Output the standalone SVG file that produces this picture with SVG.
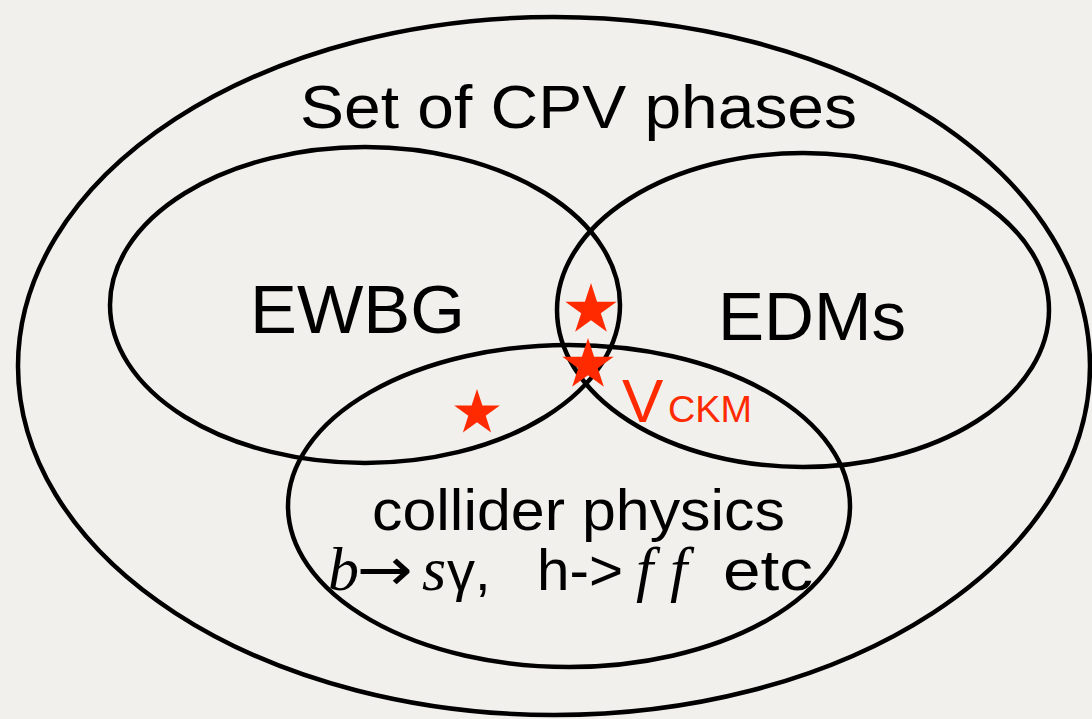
<svg xmlns="http://www.w3.org/2000/svg" width="1092" height="719" viewBox="0 0 1092 719">
<style>
.set{fill:none;stroke:#000;stroke-width:4.5}
.lbl{font-family:"Liberation Sans",Arial,sans-serif;fill:#000}
.math{font-family:"Liberation Serif","Times New Roman",serif;font-style:italic;fill:#000}
.red{fill:#ff2a00}
</style>
<defs>
<polygon id="star" points="0,-100 22.5,-30.9 95.1,-30.9 36.3,11.8 58.8,80.9 0,38.2 -58.8,80.9 -36.3,11.8 -95.1,-30.9 -22.5,-30.9"/>
</defs>
<rect width="1092" height="719" fill="#f1f0ec"/>
<g id="outer">
<ellipse class="set" cx="554" cy="366" rx="536" ry="349"/>
<text class="lbl" x="300" y="128" font-size="62" textLength="557" lengthAdjust="spacingAndGlyphs">Set of CPV phases</text>
</g>
<g id="ewbg">
<ellipse class="set" cx="365" cy="305" rx="255" ry="158"/>
<text class="lbl" x="250" y="333" font-size="68" textLength="215" lengthAdjust="spacingAndGlyphs">EWBG</text>
</g>
<g id="edms">
<ellipse class="set" cx="803" cy="310" rx="246" ry="157"/>
<text class="lbl" x="718" y="340" font-size="68" textLength="188" lengthAdjust="spacingAndGlyphs">EDMs</text>
</g>
<g id="collider">
<ellipse class="set" cx="569" cy="506" rx="281" ry="161"/>
<text class="lbl" x="372" y="530" font-size="58" textLength="413" lengthAdjust="spacingAndGlyphs">collider physics</text>
<text class="math" x="328" y="590" font-size="62">b</text>
<text x="357" y="590" font-size="60" font-family="DejaVu Sans,sans-serif" fill="#000" textLength="56" lengthAdjust="spacingAndGlyphs">→</text>
<text class="math" x="422" y="590" font-size="62">s</text>
<text class="lbl" x="447" y="590" font-size="56">γ,</text>
<text class="lbl" x="537" y="590" font-size="58" textLength="86" lengthAdjust="spacingAndGlyphs">h-&gt;</text>
<text class="math" x="636" y="590" font-size="62">f</text>
<text class="math" x="670" y="590" font-size="62">f</text>
<text class="lbl" x="723" y="590" font-size="58" textLength="90" lengthAdjust="spacingAndGlyphs">etc</text>
</g>
<g id="stars">
<use href="#star" class="red" transform="translate(591,310) scale(0.27)"/>
<use href="#star" class="red" transform="translate(588,365) scale(0.27)"/>
<use href="#star" class="red" transform="translate(477,413) scale(0.24)"/>
<text class="red" font-family="Liberation Sans,Arial,sans-serif" x="622" y="422" font-size="62">V</text>
<text class="red" font-family="Liberation Sans,Arial,sans-serif" x="668" y="422" font-size="36" textLength="84" lengthAdjust="spacingAndGlyphs">CKM</text>
</g>
<g id="connectors"/>
</svg>
